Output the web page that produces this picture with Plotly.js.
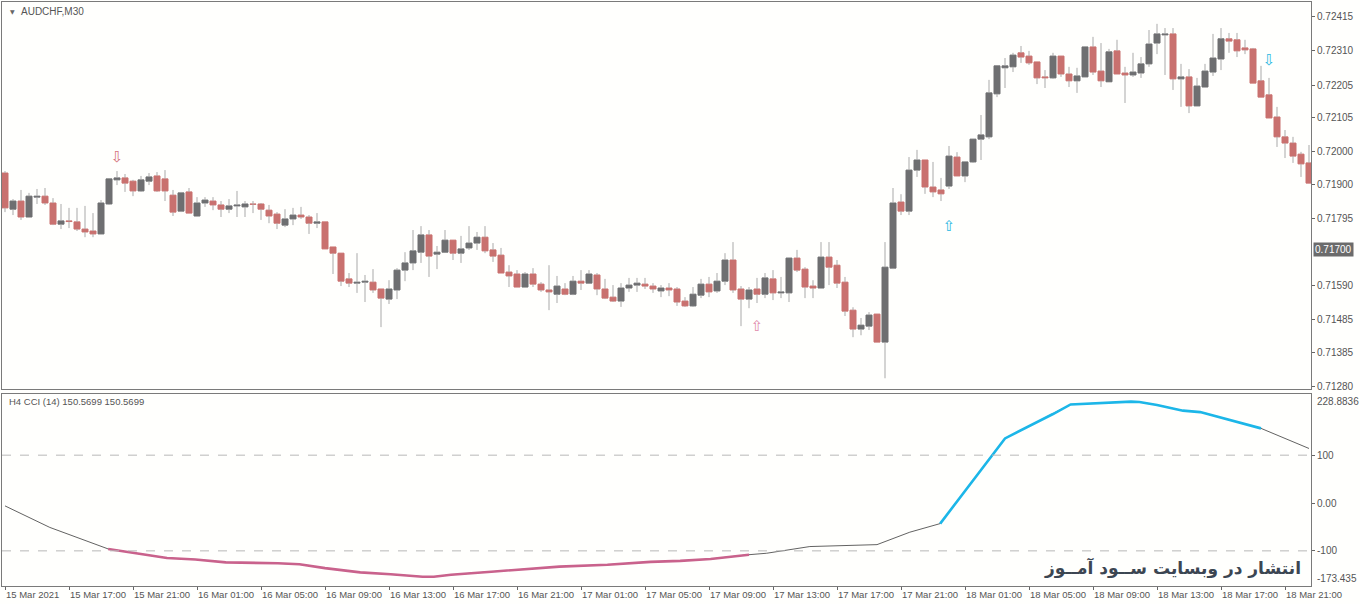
<!DOCTYPE html>
<html><head><meta charset="utf-8">
<script src="https://cdn.plot.ly/plotly-3.0.1.min.js"></script>
<style>html,body{margin:0;padding:0;background:#fffffd;}</style>
</head><body><div id="chart" style="width:1360px;height:604px;"></div>
<script>
// ---- data (AUDCHF M30) ----
const barOpen = [
0.71935,0.71824,0.71849,0.71800,0.71861,0.71864,0.71843,0.71778,0.71788,0.71785,
0.71763,0.71757,0.71748,0.71840,0.71914,0.71920,0.71910,0.71880,0.71910,0.71926,
0.71917,0.71867,0.71818,0.71877,0.71803,0.71843,0.71849,0.71837,0.71824,0.71834,
0.71831,0.71840,0.71840,0.71821,0.71809,0.71775,0.71794,0.71806,0.71800,0.71781,
0.71785,0.71708,0.71689,0.71610,0.71597,0.71600,0.71600,0.71579,0.71548,0.71576,
0.71637,0.71659,0.71692,0.71745,0.71686,0.71692,0.71729,0.71689,0.71705,0.71720,
0.71738,0.71699,0.71683,0.71631,0.71625,0.71585,0.71625,0.71594,0.71576,0.71563,
0.71579,0.71563,0.71603,0.71597,0.71622,0.71579,0.71554,0.71542,0.71582,0.71591,
0.71594,0.71588,0.71573,0.71582,0.71579,0.71542,0.71527,0.71560,0.71594,0.71573,
0.71603,0.71668,0.71579,0.71548,0.71579,0.71563,0.71610,0.71567,0.71567,0.71674,
0.71640,0.71588,0.71582,0.71677,0.71652,0.71600,0.71514,0.71456,0.71465,0.71502,
0.71416,0.71643,0.71846,0.71818,0.71944,0.71975,0.71892,0.71883,0.71895,0.71984,
0.71926,0.71969,0.72039,0.72046,0.72178,0.72258,0.72261,0.72304,0.72294,0.72276,
0.72230,0.72227,0.72294,0.72239,0.72218,0.72230,0.72322,0.72248,0.72215,0.72310,
0.72242,0.72236,0.72242,0.72270,0.72334,0.72359,0.72362,0.72224,0.72230,0.72141,
0.72199,0.72245,0.72285,0.72347,0.72344,0.72319,0.72316,0.72218,0.72175,0.72107,
0.72046,0.72027,0.71993,0.71966];
const barHigh = [
0.71941,0.71855,0.71883,0.71874,0.71886,0.71889,0.71858,0.71840,0.71828,0.71828,
0.71834,0.71812,0.71852,0.71917,0.71941,0.71932,0.71914,0.71926,0.71935,0.71938,
0.71944,0.71883,0.71877,0.71889,0.71861,0.71861,0.71861,0.71849,0.71855,0.71880,
0.71849,0.71849,0.71843,0.71837,0.71815,0.71824,0.71828,0.71831,0.71806,0.71812,
0.71785,0.71708,0.71689,0.71628,0.71689,0.71622,0.71640,0.71579,0.71606,0.71643,
0.71692,0.71760,0.71772,0.71760,0.71711,0.71760,0.71729,0.71742,0.71772,0.71754,
0.71772,0.71720,0.71705,0.71652,0.71637,0.71631,0.71643,0.71600,0.71652,0.71619,
0.71597,0.71619,0.71637,0.71637,0.71628,0.71610,0.71591,0.71597,0.71613,0.71613,
0.71613,0.71597,0.71591,0.71597,0.71585,0.71554,0.71585,0.71610,0.71616,0.71628,
0.71689,0.71723,0.71588,0.71585,0.71613,0.71628,0.71637,0.71616,0.71674,0.71699,
0.71646,0.71606,0.71723,0.71723,0.71668,0.71616,0.71523,0.71490,0.71508,0.71502,
0.71723,0.71889,0.71870,0.71984,0.72006,0.71975,0.71969,0.71920,0.72018,0.71999,
0.71969,0.72039,0.72113,0.72221,0.72264,0.72288,0.72304,0.72325,0.72310,0.72276,
0.72251,0.72304,0.72294,0.72261,0.72258,0.72322,0.72353,0.72334,0.72316,0.72344,
0.72261,0.72304,0.72291,0.72374,0.72393,0.72380,0.72380,0.72270,0.72254,0.72227,
0.72270,0.72362,0.72380,0.72365,0.72365,0.72344,0.72319,0.72264,0.72227,0.72138,
0.72067,0.72046,0.72000,0.72021];
const barLow = [
0.71815,0.71806,0.71791,0.71800,0.71840,0.71837,0.71775,0.71763,0.71766,0.71757,
0.71738,0.71738,0.71748,0.71837,0.71898,0.71877,0.71864,0.71877,0.71898,0.71877,
0.71849,0.71803,0.71815,0.71812,0.71803,0.71831,0.71821,0.71800,0.71812,0.71800,
0.71800,0.71812,0.71791,0.71781,0.71763,0.71769,0.71775,0.71794,0.71748,0.71766,
0.71702,0.71625,0.71588,0.71585,0.71567,0.71539,0.71567,0.71462,0.71533,0.71548,
0.71603,0.71637,0.71659,0.71616,0.71640,0.71692,0.71668,0.71659,0.71699,0.71699,
0.71689,0.71662,0.71628,0.71585,0.71585,0.71585,0.71585,0.71570,0.71514,0.71536,
0.71560,0.71560,0.71576,0.71597,0.71560,0.71548,0.71539,0.71524,0.71570,0.71570,
0.71579,0.71567,0.71554,0.71557,0.71527,0.71524,0.71524,0.71551,0.71554,0.71567,
0.71591,0.71567,0.71465,0.71520,0.71536,0.71551,0.71545,0.71551,0.71539,0.71631,
0.71551,0.71551,0.71582,0.71591,0.71582,0.71496,0.71431,0.71437,0.71453,0.71416,
0.71305,0.71640,0.71806,0.71806,0.71923,0.71871,0.71861,0.71849,0.71886,0.71926,
0.71907,0.71966,0.71975,0.72039,0.72168,0.72196,0.72245,0.72273,0.72267,0.72208,
0.72196,0.72224,0.72230,0.72199,0.72181,0.72230,0.72236,0.72199,0.72215,0.72239,
0.72150,0.72230,0.72227,0.72261,0.72300,0.72236,0.72190,0.72138,0.72119,0.72141,
0.72199,0.72233,0.72251,0.72304,0.72291,0.72300,0.72211,0.72168,0.72104,0.72015,
0.71981,0.71966,0.71923,0.71904];
const barClose = [
0.71828,0.71849,0.71800,0.71864,0.71864,0.71843,0.71778,0.71788,0.71786,0.71763,
0.71754,0.71748,0.71843,0.71917,0.71920,0.71904,0.71880,0.71914,0.71923,0.71880,
0.71880,0.71815,0.71874,0.71812,0.71843,0.71852,0.71837,0.71824,0.71834,0.71837,
0.71840,0.71839,0.71824,0.71803,0.71781,0.71794,0.71806,0.71800,0.71781,0.71785,
0.71702,0.71689,0.71603,0.71597,0.71600,0.71603,0.71576,0.71551,0.71579,0.71637,
0.71659,0.71696,0.71745,0.71680,0.71692,0.71729,0.71689,0.71702,0.71720,0.71738,
0.71696,0.71680,0.71628,0.71619,0.71585,0.71625,0.71594,0.71576,0.71570,0.71588,
0.71563,0.71603,0.71597,0.71625,0.71579,0.71551,0.71542,0.71582,0.71591,0.71597,
0.71588,0.71579,0.71582,0.71576,0.71539,0.71527,0.71563,0.71594,0.71570,0.71603,
0.71668,0.71576,0.71548,0.71576,0.71563,0.71613,0.71567,0.71570,0.71674,0.71637,
0.71585,0.71582,0.71677,0.71646,0.71597,0.71511,0.71456,0.71468,0.71499,0.71416,
0.71646,0.71843,0.71818,0.71944,0.71975,0.71892,0.71877,0.71871,0.71987,0.71926,
0.71969,0.72039,0.72052,0.72181,0.72264,0.72264,0.72297,0.72291,0.72273,0.72227,
0.72227,0.72294,0.72239,0.72218,0.72233,0.72322,0.72245,0.72218,0.72307,0.72239,
0.72236,0.72245,0.72270,0.72331,0.72362,0.72362,0.72224,0.72230,0.72141,0.72202,
0.72248,0.72288,0.72347,0.72340,0.72310,0.72313,0.72211,0.72168,0.72104,0.72046,
0.72027,0.71987,0.71963,0.71904];

const timeLabels = ['15 Mar 2021','15 Mar 17:00','15 Mar 21:00','16 Mar 01:00','16 Mar 05:00',
  '16 Mar 09:00','16 Mar 13:00','16 Mar 17:00','16 Mar 21:00','17 Mar 01:00','17 Mar 05:00',
  '17 Mar 09:00','17 Mar 13:00','17 Mar 17:00','17 Mar 21:00','18 Mar 01:00','18 Mar 05:00',
  '18 Mar 09:00','18 Mar 13:00','18 Mar 17:00','18 Mar 21:00'];
const barsPerLabel = 8; // 4 hours of M30 bars
const priceTicks = [0.72415,0.72310,0.72205,0.72105,0.72000,0.71900,0.71795,0.71590,0.71485,0.71385,0.71280];
const markedPrice = 0.71700;

// H4 CCI(14) drawn on the M30 bars
const cciBar = [0,5.6,12.9,16.2,20.25,23.8,27.6,34.1,36.8,40,44.4,48.2,52.2,53.6,55.75,61.2,65.8,69.3,75.3,80.7,84.4,88.2,93,95.2,100.6,109,113.1,116.9,125,131,133.2,140.75,141.8,144,147.25,149.4,157,163];
const cciValue = [-6,-51,-96,-105,-115,-118,-124,-126,-128,-136,-145,-149,-154,-154,-150,-143,-138,-133,-129,-123,-121,-117,-108,-105,-91,-87,-61,-43,135,186,206,212,211,205,193,190,156,114];
const cciPinkRange = [2,22];
const cciCyanRange = [27,36];
const cciLevels = [100,-100];
const cciMax = 228.8836, cciMin = -173.435;

// signal arrows
const arrowBar = [14,94,118,158];
const arrowPrice = [0.71981,0.71461,0.71770,0.72278];
const arrowGlyph = ['\u21E9','\u21E7','\u21E7','\u21E9'];
const arrowColor = ['#d4707c','#e08aab','#2bb8e2','#2bb8e2'];

// ---- build ----
const idx = barOpen.map((_, i) => i);
const upCol = '#6e6f71', dnCol = '#c9716f', wickCol = '#a9a9a9';
const bodyBase = idx.map(i => Math.min(barOpen[i], barClose[i]));
const bodySize = idx.map(i => Math.max(Math.abs(barClose[i] - barOpen[i]), 0.000002));
const bodyCol = idx.map(i => barClose[i] >= barOpen[i] ? upCol : dnCol);
const wx = [], wy = [];
idx.forEach(i => {
  const top = Math.max(barOpen[i], barClose[i]), bot = Math.min(barOpen[i], barClose[i]);
  if (barHigh[i] > top) { wx.push(i, i, null); wy.push(barHigh[i], top, null); }
  if (barLow[i] < bot) { wx.push(i, i, null); wy.push(bot, barLow[i], null); }
});

const traces = [
  {type:'scatter', mode:'lines', x:wx, y:wy, xaxis:'x', yaxis:'y', line:{color:wickCol, width:1}, hoverinfo:'skip', connectgaps:false},
  {type:'bar', x:idx, base:bodyBase, y:bodySize, width:0.75, xaxis:'x', yaxis:'y',
   marker:{color:bodyCol, line:{color:bodyCol, width:1}}, hoverinfo:'skip'},
  {type:'scatter', mode:'text', x:arrowBar, y:arrowPrice, text:arrowGlyph, xaxis:'x', yaxis:'y',
   textfont:{family:'DejaVu Sans', size:15, color:arrowColor}, hoverinfo:'skip'},
  {type:'scatter', mode:'lines', x:cciBar, y:cciValue, xaxis:'x2', yaxis:'y2', line:{color:'#3a3a3a', width:0.8}, hoverinfo:'skip'},
  {type:'scatter', mode:'lines', x:cciBar.slice(cciPinkRange[0], cciPinkRange[1]+1), y:cciValue.slice(cciPinkRange[0], cciPinkRange[1]+1),
   xaxis:'x2', yaxis:'y2', line:{color:'#c9628c', width:2.6}, hoverinfo:'skip'},
  {type:'scatter', mode:'lines', x:cciBar.slice(cciCyanRange[0], cciCyanRange[1]+1), y:cciValue.slice(cciCyanRange[0], cciCyanRange[1]+1),
   xaxis:'x2', yaxis:'y2', line:{color:'#1cb6e8', width:2.6}, hoverinfo:'skip'}
];

const W = 1360, H = 604, mL = 2, mR = 49, mT = 2, mB = 18;
const pw = W - mL - mR, ph = H - mT - mB;
const px = v => (v - mL) / pw;            // pixel -> paper x
const py = v => (H - mB - v) / ph;        // pixel -> paper y
const xr = [-0.375, 163.25];
const axFont = {family:'Liberation Sans, Arial, sans-serif', size:10, color:'#555'};
const lineCol = '#7a7a7a';

const layout = {
  width:W, height:H, margin:{l:mL, r:mR, t:mT, b:mB},
  paper_bgcolor:'#fffffd', plot_bgcolor:'#fffffd', showlegend:false, barmode:'overlay',
  xaxis:{anchor:'y', domain:[0,1], range:xr, showticklabels:false, ticks:'', showgrid:false, zeroline:false,
         showline:true, mirror:true, linecolor:lineCol, linewidth:1},
  yaxis:{anchor:'x', domain:[py(389), 1], range:[0.71272, 0.72460], side:'right', tickvals:priceTicks,
         ticktext:priceTicks.map(v => v.toFixed(5)), ticks:'outside', ticklen:3, tickcolor:'#666',
         tickfont:axFont, showgrid:false, zeroline:false, showline:true, mirror:true, linecolor:lineCol, linewidth:1},
  xaxis2:{anchor:'y2', domain:[0,1], range:xr, tickvals:timeLabels.map((_, k) => k*barsPerLabel), ticktext:timeLabels,
          tickangle:0, ticklabelposition:'outside right', ticks:'outside', ticklen:3, tickcolor:'#666',
          tickfont:{family:'Liberation Sans, Arial, sans-serif', size:9.5, color:'#555'},
          showgrid:false, zeroline:false, showline:true, mirror:true, linecolor:lineCol, linewidth:1},
  yaxis2:{anchor:'x2', domain:[0, py(393.5)], range:[cciMin, cciMax], side:'right', tickvals:[100,0,-100],
          ticktext:['100','0.00','-100'], ticks:'outside', ticklen:3, tickcolor:'#666', tickfont:axFont,
          showgrid:false, zeroline:false, showline:true, mirror:true, linecolor:lineCol, linewidth:1},
  shapes: cciLevels.map(v => ({type:'line', xref:'paper', x0:0, x1:1, yref:'y2', y0:v, y1:v,
          line:{color:'#b8b8b8', width:1, dash:'dash'}})),
  annotations:[
    {xref:'paper', yref:'paper', x:px(8), y:py(11), xanchor:'left', yanchor:'middle', showarrow:false,
     text:'\u25BC', font:{family:'DejaVu Sans', size:6, color:'#666'}},
    {xref:'paper', yref:'paper', x:px(19), y:py(11), xanchor:'left', yanchor:'middle', showarrow:false,
     text:'AUDCHF,M30', font:{family:'Liberation Sans, Arial', size:10, color:'#555'}},
    {xref:'paper', yref:'paper', x:px(7), y:py(401), xanchor:'left', yanchor:'middle', showarrow:false,
     text:'H4 CCI (14) 150.5699 150.5699', font:{family:'Liberation Sans, Arial', size:9.5, color:'#555'}},
    {xref:'paper', yref:'y', x:1, xshift:2, y:markedPrice, xanchor:'left', yanchor:'middle', showarrow:false,
     text:markedPrice.toFixed(5), bgcolor:'#6b6b6b', borderpad:1, font:{family:'Liberation Sans, Arial', size:10, color:'#ffffff'}},
    {xref:'paper', yref:'y2', x:1, xshift:4, y:cciMax, xanchor:'left', yanchor:'top', showarrow:false,
     text:cciMax.toString(), font:axFont},
    {xref:'paper', yref:'y2', x:1, xshift:4, y:cciMin, xanchor:'left', yanchor:'bottom', showarrow:false,
     text:cciMin.toString(), font:axFont},
    {xref:'paper', yref:'paper', x:px(1303), y:py(568), xanchor:'right', yanchor:'middle', showarrow:false,
     text:'انتشار در وبسایت ســود آمــوز', font:{family:'DejaVu Sans', size:17, color:'#3c4652', weight:'bold'}}
  ]
};

Plotly.newPlot('chart', traces, layout, {displayModeBar:false, staticPlot:true});
</script></body></html>
